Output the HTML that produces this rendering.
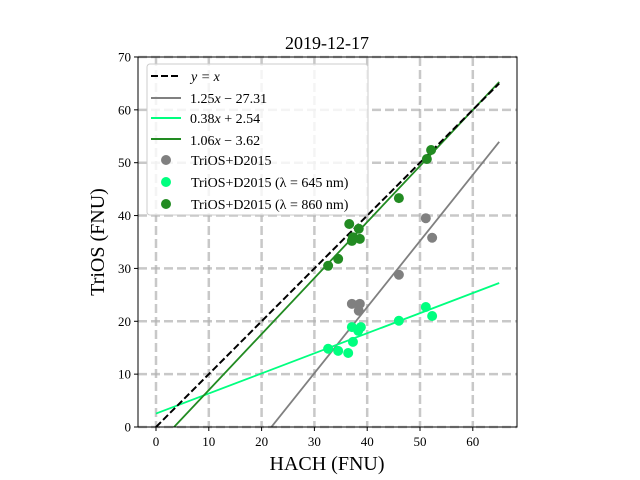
<!DOCTYPE html>
<html><head><meta charset="utf-8"><style>
html,body{margin:0;padding:0;background:#fff;overflow:hidden;width:640px;height:480px;}
svg{display:block;position:absolute;left:0;top:0;}
svg text{font-family:"Liberation Serif","DejaVu Serif",serif;fill:#000;}
</style></head><body>
<svg id="chart" width="640" height="480" viewBox="0 0 640 480" overflow="hidden" xmlns="http://www.w3.org/2000/svg">
<defs><clipPath id="clip"><rect x="138" y="57" width="379" height="370"/></clipPath></defs>
<g id="grid"></g>
<g id="lines" clip-path="url(#clip)"></g>
<g id="points"></g>
<rect x="138" y="57" width="379" height="370" fill="none" stroke="#000" stroke-width="1"/>
<g id="ticks"></g>
<text x="327" y="49" font-size="18" text-anchor="middle">2019-12-17</text>
<text x="327" y="470" font-size="20" text-anchor="middle">HACH (FNU)</text>
<text transform="translate(104,242) rotate(-90)" font-size="20" text-anchor="middle">TriOS (FNU)</text>
<g>
<rect x="147" y="64" width="221" height="151" rx="3" fill="#fff" fill-opacity="0.8" stroke="#ccc"/>
<line x1="151" y1="76" x2="181" y2="76" stroke="#000" stroke-width="2" stroke-dasharray="7,3"/>
<text x="191" y="81" font-size="14" font-style="italic">y = x</text>
<line x1="151" y1="98" x2="181" y2="98" stroke="#808080" stroke-width="2"/>
<text x="190" y="103" font-size="14">1.25<tspan font-style="italic">x</tspan> − 27.31</text>
<line x1="151" y1="118" x2="181" y2="118" stroke="#00ff7f" stroke-width="2"/>
<text x="190" y="123" font-size="14">0.38<tspan font-style="italic">x</tspan> + 2.54</text>
<line x1="151" y1="139" x2="181" y2="139" stroke="#228b22" stroke-width="2"/>
<text x="190" y="145" font-size="14">1.06<tspan font-style="italic">x</tspan> − 3.62</text>
<circle cx="166" cy="160" r="5" fill="#808080"/>
<text x="191" y="165" font-size="14">TriOS+D2015</text>
<circle cx="166" cy="182" r="5" fill="#00ff7f"/>
<text x="191" y="187" font-size="14">TriOS+D2015 (λ = 645 nm)</text>
<circle cx="166" cy="204" r="5" fill="#228b22"/>
<text x="191" y="209" font-size="14">TriOS+D2015 (λ = 860 nm)</text>
</g>
</svg>
<script>
const xTicks=[0,10,20,30,40,50,60];
const yTicks=[0,10,20,30,40,50,60,70];
const grayX=[51.1,52.3,46.0,37.1,38.6,38.4];
const grayY=[39.5,35.8,28.8,23.3,23.3,22.0];
const red645X=[51.1,52.3,46.0,37.1,38.8,38.3,37.3,32.6,34.5,36.4];
const red645Y=[22.7,21.0,20.1,18.9,18.9,18.2,16.1,14.8,14.4,14.0];
const nir860X=[32.6,34.5,36.6,38.4,37.3,38.6,37.1,46.0,51.3,52.1];
const nir860Y=[30.5,31.8,38.4,37.5,35.9,35.6,35.2,43.3,50.7,52.4];
const fitSlopes=[1.25,0.38,1.06];
const fitIntercepts=[-27.31,2.54,-3.62];
const fitColors=["#808080","#00ff7f","#228b22"];
const fitNames=["fit-gray","fit-645","fit-860"];
const X=v=>156+5.28*v, Y=v=>427-5.286*v;
const NS="http://www.w3.org/2000/svg";
function mk(tag,attrs,parent){const e=document.createElementNS(NS,tag);for(const k in attrs)e.setAttribute(k,attrs[k]);document.getElementById(parent).appendChild(e);return e;}
xTicks.forEach(t=>{
 const g=mk('line',{x1:X(t),x2:X(t),y1:57,y2:427,stroke:'#b0b0b0','stroke-opacity':0.7,'stroke-width':2.5,'stroke-dasharray':'9,4'},'grid');
 
 
 const tk=mk('line',{x1:X(t),x2:X(t),y1:427,y2:431,stroke:'#000'},'ticks');
 
 
 const tx=mk('text',{x:X(t),y:446,'font-size':13,'text-anchor':'middle'},'ticks');tx.textContent=t;
 
 
});
yTicks.forEach(t=>{
 const g=mk('line',{x1:138,x2:517,y1:Y(t),y2:Y(t),stroke:'#b0b0b0','stroke-opacity':0.7,'stroke-width':2.5,'stroke-dasharray':'9,4'},'grid');
 
 
 const tk=mk('line',{x1:134,x2:138,y1:Y(t),y2:Y(t),stroke:'#000'},'ticks');
 
 
 const tx=mk('text',{x:131,y:Y(t)+4.5,'font-size':13,'text-anchor':'end'},'ticks');tx.textContent=t;
 
 
});
function drawPts(xs,ys,c,name){xs.forEach((x,i)=>{const p=mk('circle',{cx:X(x),cy:Y(ys[i]),r:5,fill:c},'points');
 
 });}
drawPts(grayX,grayY,'#808080','point-gray');
drawPts(red645X,red645Y,'#00ff7f','point-645');
drawPts(nir860X,nir860Y,'#228b22','point-860');
fitSlopes.forEach((m,i)=>{const b=fitIntercepts[i];
 const l=mk('line',{x1:X(0),y1:Y(b),x2:X(65),y2:Y(m*65+b),stroke:fitColors[i],'stroke-width':1.8},'lines');
 
 });
const id=mk('line',{x1:X(0),y1:Y(0),x2:X(65),y2:Y(65),stroke:'#000','stroke-width':2,'stroke-dasharray':'7,3'},'lines');


</script>
</body></html>
